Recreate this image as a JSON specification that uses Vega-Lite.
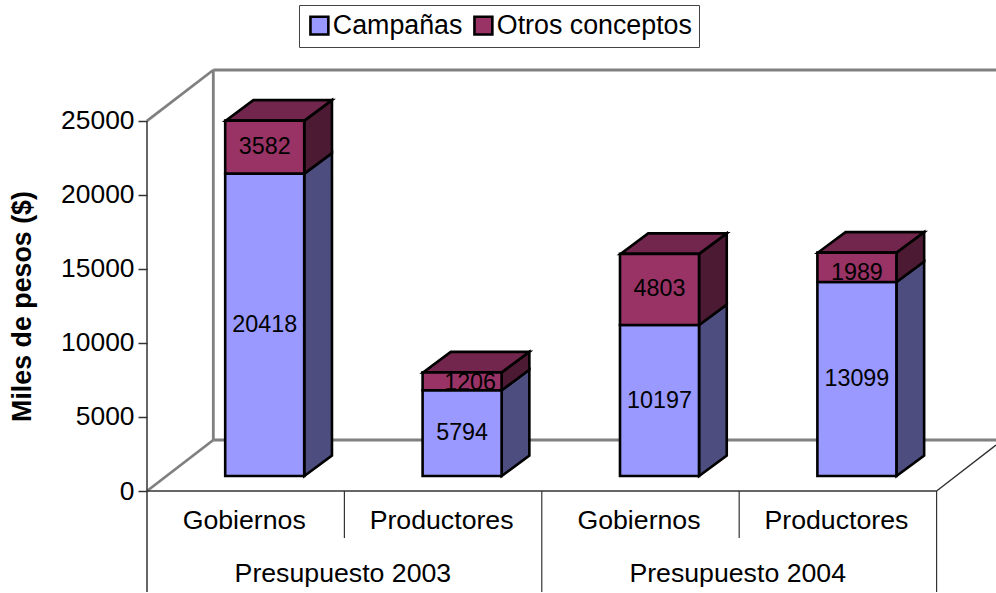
{
"$schema":"https://vega.github.io/schema/vega-lite/v6.json",
"width":849,"height":491,
"autosize":{"type":"none"},
"padding":{"left":147,"top":0,"right":0,"bottom":102},
"background":"white",
"config":{"font":"Liberation Sans","view":{"stroke":null}},
"datasets":{
"valores":[
{"posicion":1,"presupuesto":"Presupuesto 2003","destino":"Gobiernos","serie":"Campañas","orden":1,"valor":20418},
{"posicion":1,"presupuesto":"Presupuesto 2003","destino":"Gobiernos","serie":"Otros conceptos","orden":2,"valor":3582},
{"posicion":2,"presupuesto":"Presupuesto 2003","destino":"Productores","serie":"Campañas","orden":1,"valor":5794},
{"posicion":2,"presupuesto":"Presupuesto 2003","destino":"Productores","serie":"Otros conceptos","orden":2,"valor":1206},
{"posicion":3,"presupuesto":"Presupuesto 2004","destino":"Gobiernos","serie":"Campañas","orden":1,"valor":10197},
{"posicion":3,"presupuesto":"Presupuesto 2004","destino":"Gobiernos","serie":"Otros conceptos","orden":2,"valor":4803},
{"posicion":4,"presupuesto":"Presupuesto 2004","destino":"Productores","serie":"Campañas","orden":1,"valor":13099},
{"posicion":4,"presupuesto":"Presupuesto 2004","destino":"Productores","serie":"Otros conceptos","orden":2,"valor":1989}
],
"caras":[
{"cara":"1c","tipo":"lado","serie":"Campañas","x":1.297,"lo":1013,"hi":21431},
{"cara":"1c","tipo":"lado","serie":"Campañas","x":1.437,"lo":2397,"hi":22815},
{"cara":"1o","tipo":"lado","serie":"Otros","x":1.297,"lo":21431,"hi":25013},
{"cara":"1o","tipo":"lado","serie":"Otros","x":1.437,"lo":22815,"hi":26397},
{"cara":"2c","tipo":"lado","serie":"Campañas","x":2.297,"lo":1013,"hi":6807},
{"cara":"2c","tipo":"lado","serie":"Campañas","x":2.437,"lo":2397,"hi":8191},
{"cara":"2o","tipo":"lado","serie":"Otros","x":2.297,"lo":6807,"hi":8013},
{"cara":"2o","tipo":"lado","serie":"Otros","x":2.437,"lo":8191,"hi":9397},
{"cara":"3c","tipo":"lado","serie":"Campañas","x":3.297,"lo":1013,"hi":11210},
{"cara":"3c","tipo":"lado","serie":"Campañas","x":3.437,"lo":2397,"hi":12594},
{"cara":"3o","tipo":"lado","serie":"Otros","x":3.297,"lo":11210,"hi":16013},
{"cara":"3o","tipo":"lado","serie":"Otros","x":3.437,"lo":12594,"hi":17397},
{"cara":"4c","tipo":"lado","serie":"Campañas","x":4.297,"lo":1013,"hi":14112},
{"cara":"4c","tipo":"lado","serie":"Campañas","x":4.437,"lo":2397,"hi":15496},
{"cara":"4o","tipo":"lado","serie":"Otros","x":4.297,"lo":14112,"hi":16101},
{"cara":"4o","tipo":"lado","serie":"Otros","x":4.437,"lo":15496,"hi":17485},
{"cara":"1t","tipo":"tope","serie":"Otros","x":0.899,"lo":25013,"hi":25013},
{"cara":"1t","tipo":"tope","serie":"Otros","x":1.039,"lo":25013,"hi":26397},
{"cara":"1t","tipo":"tope","serie":"Otros","x":1.297,"lo":25013,"hi":26397},
{"cara":"1t","tipo":"tope","serie":"Otros","x":1.437,"lo":26397,"hi":26397},
{"cara":"2t","tipo":"tope","serie":"Otros","x":1.899,"lo":8013,"hi":8013},
{"cara":"2t","tipo":"tope","serie":"Otros","x":2.039,"lo":8013,"hi":9397},
{"cara":"2t","tipo":"tope","serie":"Otros","x":2.297,"lo":8013,"hi":9397},
{"cara":"2t","tipo":"tope","serie":"Otros","x":2.437,"lo":9397,"hi":9397},
{"cara":"3t","tipo":"tope","serie":"Otros","x":2.899,"lo":16013,"hi":16013},
{"cara":"3t","tipo":"tope","serie":"Otros","x":3.039,"lo":16013,"hi":17397},
{"cara":"3t","tipo":"tope","serie":"Otros","x":3.297,"lo":16013,"hi":17397},
{"cara":"3t","tipo":"tope","serie":"Otros","x":3.437,"lo":17397,"hi":17397},
{"cara":"4t","tipo":"tope","serie":"Otros","x":3.899,"lo":16101,"hi":16101},
{"cara":"4t","tipo":"tope","serie":"Otros","x":4.039,"lo":16101,"hi":17485},
{"cara":"4t","tipo":"tope","serie":"Otros","x":4.297,"lo":16101,"hi":17485},
{"cara":"4t","tipo":"tope","serie":"Otros","x":4.437,"lo":17485,"hi":17485}
],
"paredes":[
{"x":0.836,"x2":4.801,"y":28431,"y2":28431},
{"x":0.836,"x2":0.836,"y":28431,"y2":3444},
{"x":0.836,"x2":4.801,"y":3444,"y2":3444},
{"x":0.5,"x2":0.836,"y":25000,"y2":28431},
{"x":0.5,"x2":0.836,"y":0,"y2":3444}
],
"base":[
{"x":0.5,"x2":4.5,"y":0,"y2":0},
{"x":4.5,"x2":4.801,"y":0,"y2":3106},
{"x":0.5,"x2":0.5,"y":25000,"y2":-6820}
],
"separadores":[{"x":1.5,"y":0,"y2":-3174},{"x":3.5,"y":0,"y2":-3174}],
"largos":[{"x":2.5,"y":0,"y2":-6820},{"x":4.5,"y":0,"y2":-6820}]
},
"resolve":{"axis":{"x":"independent","y":"independent"}},
"layer":[
{"data":{"name":"paredes"},"mark":{"type":"rule","color":"#808080","strokeWidth":2.8},
"encoding":{
"x":{"field":"x","type":"quantitative","axis":null,"scale":{"domain":[0.5,4.801],"nice":false,"zero":false,"padding":0}},
"x2":{"field":"x2"},
"y":{"field":"y","type":"quantitative","scale":{"domain":[0,33158],"nice":false,"padding":0},"axis":{"title":"Miles de pesos ($)","titleFontSize":26.8,"titleFontWeight":"bold","titleColor":"black","titlePadding":24,"values":[0,5000,10000,15000,20000,25000],"format":"d","labelFontSize":26.4,"labelColor":"black","labelPadding":4,"tickSize":9,"tickColor":"#333333","tickWidth":1.5,"domain":false,"grid":false,"titleAnchor":"middle","titleY":306}},
"y2":{"field":"y2"}}},
{"data":{"name":"base"},"mark":{"type":"rule","color":"#333333","strokeWidth":1.5},
"encoding":{"x":{"field":"x","type":"quantitative","axis":null},"x2":{"field":"x2"},"y":{"field":"y","type":"quantitative","axis":null},"y2":{"field":"y2"}}},
{"data":{"name":"separadores"},"mark":{"type":"rule","color":"#333333","strokeWidth":1.2},
"encoding":{
"x":{"field":"x","type":"quantitative","axis":{"orient":"bottom","title":null,"domain":false,"ticks":false,"grid":false,"values":[1,2,3,4],"labelExpr":"datum.value % 2 == 1 ? 'Gobiernos' : 'Productores'","labelFontSize":26.7,"labelColor":"black","labelPadding":16,"labelOffset":-2,"labelOverlap":false,"labelFlush":false,"labelLimit":500}},
"y":{"field":"y","type":"quantitative","axis":null},"y2":{"field":"y2"}}},
{"data":{"name":"largos"},"mark":{"type":"rule","color":"#333333","strokeWidth":1.2},
"encoding":{
"x":{"field":"x","type":"quantitative","axis":{"orient":"bottom","title":null,"domain":false,"ticks":false,"grid":false,"values":[1.5,3.5],"labelExpr":"datum.value < 2 ? 'Presupuesto 2003' : 'Presupuesto 2004'","labelFontSize":26.7,"labelColor":"black","labelPadding":69,"labelOffset":-2,"labelOverlap":false,"labelFlush":false,"labelLimit":500}},
"y":{"field":"y","type":"quantitative","axis":null},"y2":{"field":"y2"}}},
{"data":{"name":"caras"},"transform":[{"filter":"datum.tipo == 'lado' && datum.serie == 'Campañas'"}],
"mark":{"type":"area","fill":"#4D4D80","stroke":"black","strokeWidth":2.6,"strokeJoin":"miter"},
"encoding":{"x":{"field":"x","type":"quantitative","axis":null},"y":{"field":"lo","type":"quantitative","axis":null},"y2":{"field":"hi"},"detail":{"field":"cara"}}},
{"data":{"name":"caras"},"transform":[{"filter":"datum.tipo == 'lado' && datum.serie == 'Otros'"}],
"mark":{"type":"area","fill":"#4D1A33","stroke":"black","strokeWidth":2.6,"strokeJoin":"miter"},
"encoding":{"x":{"field":"x","type":"quantitative","axis":null},"y":{"field":"lo","type":"quantitative","axis":null},"y2":{"field":"hi"},"detail":{"field":"cara"}}},
{"data":{"name":"caras"},"transform":[{"filter":"datum.tipo == 'tope'"}],
"mark":{"type":"area","fill":"#73264D","stroke":"black","strokeWidth":2.6,"strokeJoin":"miter"},
"encoding":{"x":{"field":"x","type":"quantitative","axis":null},"y":{"field":"lo","type":"quantitative","axis":null},"y2":{"field":"hi"},"detail":{"field":"cara"}}},
{"data":{"name":"valores"},
"mark":{"type":"bar","width":79,"xOffset":19,"yOffset":-15,"y2Offset":-15,"stroke":"black","strokeWidth":2.6},
"encoding":{
"x":{"field":"posicion","type":"quantitative","axis":null},
"y":{"field":"valor","type":"quantitative","stack":"zero","axis":null},
"order":{"field":"orden","type":"ordinal"},
"color":{"field":"serie","type":"nominal","scale":{"domain":["Campañas","Otros conceptos"],"range":["#9999FF","#993366"]},
"legend":{"orient":"none","legendX":152,"legendY":5,"direction":"horizontal","columns":2,"title":null,"fillColor":"white","strokeColor":"#444444","padding":7,"symbolType":"square","symbolSize":320,"symbolStrokeColor":"black","symbolStrokeWidth":2.6,"labelFontSize":26.8,"labelColor":"black","labelLimit":500,"columnPadding":6,"labelOffset":0}}}},
{"data":{"name":"valores"},
"transform":[{"stack":"valor","groupby":["posicion"],"sort":[{"field":"orden","order":"ascending"}],"as":["base_pila","tope_pila"]},{"filter":"datum.valor != 1206 && datum.valor != 1989"},{"fold":["base_pila","tope_pila"],"as":["extremo","nivel"]}],
"mark":{"type":"text","xOffset":19,"yOffset":-15,"fontSize":23.3,"color":"black"},
"encoding":{
"x":{"field":"posicion","type":"quantitative","axis":null},
"y":{"aggregate":"mean","field":"nivel","type":"quantitative","axis":null},
"text":{"field":"valor","type":"quantitative","format":"d"}}},
{"data":{"name":"valores"},
"transform":[{"stack":"valor","groupby":["posicion"],"sort":[{"field":"orden","order":"ascending"}],"as":["base_pila","tope_pila"]},{"filter":"datum.valor == 1206"},{"fold":["base_pila","tope_pila"],"as":["extremo","nivel"]}],
"mark":{"type":"text","xOffset":27,"yOffset":-13,"fontSize":23.3,"color":"black"},
"encoding":{
"x":{"field":"posicion","type":"quantitative","axis":null},
"y":{"aggregate":"mean","field":"nivel","type":"quantitative","axis":null},
"text":{"field":"valor","type":"quantitative","format":"d"}}},
{"data":{"name":"valores"},
"transform":[{"stack":"valor","groupby":["posicion"],"sort":[{"field":"orden","order":"ascending"}],"as":["base_pila","tope_pila"]},{"filter":"datum.valor == 1989"},{"fold":["base_pila","tope_pila"],"as":["extremo","nivel"]}],
"mark":{"type":"text","xOffset":19,"yOffset":-9,"fontSize":23.3,"color":"black"},
"encoding":{
"x":{"field":"posicion","type":"quantitative","axis":null},
"y":{"aggregate":"mean","field":"nivel","type":"quantitative","axis":null},
"text":{"field":"valor","type":"quantitative","format":"d"}}}
]
}
